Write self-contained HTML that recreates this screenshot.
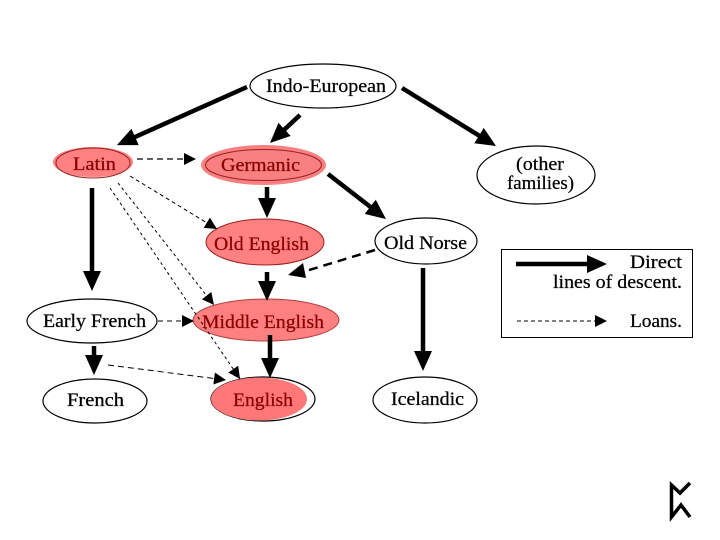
<!DOCTYPE html>
<html><head><meta charset="utf-8"><style>
html,body{margin:0;padding:0;background:#fff}
svg{display:block}
text{font-family:"Liberation Serif",serif;font-size:19px;fill:#000;stroke:#000;stroke-width:.25px}
text.r{fill:#8b0000;stroke:#8b0000}
</style></head><body>
<svg width="720" height="540" viewBox="0 0 720 540" xmlns="http://www.w3.org/2000/svg">
<rect width="720" height="540" fill="#fff"/>
<defs>
<marker id="t" markerUnits="userSpaceOnUse" markerWidth="22" markerHeight="20" refX="10" refY="9" orient="auto"><path d="M0 0L20 9L0 18Z" fill="#000"/></marker>
<marker id="d" markerUnits="userSpaceOnUse" markerWidth="14" markerHeight="14" refX="12" refY="6" orient="auto"><path d="M0 0L12 6L0 12Z" fill="#000"/></marker>
</defs>
<g fill="none" stroke="#000" stroke-width="1.200">
<ellipse cx="323" cy="86" rx="73" ry="22"/>
<ellipse cx="536" cy="175" rx="59" ry="29"/>
<ellipse cx="426" cy="241" rx="51" ry="23"/>
<ellipse cx="92" cy="321" rx="65" ry="22"/>
<ellipse cx="95" cy="401" rx="52" ry="22"/>
<ellipse cx="425" cy="400" rx="52" ry="23"/>
<ellipse cx="263" cy="399" rx="52" ry="22"/>
</g>
<ellipse cx="93" cy="162" rx="40" ry="15" fill="#ff8080"/>
<ellipse cx="93" cy="163" rx="37" ry="15" fill="none" stroke="#9a2020" stroke-width="1"/>
<ellipse cx="263.500" cy="165" rx="62.500" ry="20" fill="#f98080"/>
<ellipse cx="263.500" cy="165" rx="58" ry="15.500" fill="none" stroke="#9a2020" stroke-width="1"/>
<ellipse cx="265" cy="242" rx="59" ry="23" fill="#ff8080" stroke="#9a2020" stroke-width="1"/>
<ellipse cx="266" cy="320" rx="73" ry="21" fill="#ff8080" stroke="#b04040" stroke-width="1"/>
<ellipse cx="259" cy="399" rx="48" ry="21.500" fill="#ff7878"/>
<g stroke="#000" stroke-width="4.500" fill="none">
<line x1="247" y1="87" x2="126" y2="141" marker-end="url(#t)"/>
<line x1="300" y1="115" x2="277.300" y2="136.200" marker-end="url(#t)"/>
<line x1="402" y1="88" x2="487.500" y2="140.800" marker-end="url(#t)"/>
<line x1="328" y1="174" x2="378.100" y2="212.900" marker-end="url(#t)"/>
<line x1="267" y1="187" x2="267" y2="208" marker-end="url(#t)"/>
<line x1="267" y1="272" x2="267" y2="291" marker-end="url(#t)"/>
<line x1="270" y1="335" x2="270" y2="368" marker-end="url(#t)"/>
<line x1="92" y1="188" x2="92" y2="281" marker-end="url(#t)"/>
<line x1="94" y1="346" x2="94" y2="365" marker-end="url(#t)"/>
<line x1="423" y1="268" x2="423" y2="361" marker-end="url(#t)"/>
<line x1="516" y1="264" x2="597" y2="264" marker-end="url(#t)"/>
</g>
<g stroke="#000" stroke-width="1" fill="none" stroke-dasharray="4 3">
<line x1="137" y1="159" x2="196" y2="159" stroke-width="1.200" stroke-dasharray="6 4" marker-end="url(#d)"/>
<line x1="130" y1="176" x2="217" y2="229" marker-end="url(#d)"/>
<line x1="118" y1="183" x2="214" y2="305" stroke-dasharray="3 3" marker-end="url(#d)"/>
<line x1="110" y1="188" x2="240" y2="379" stroke-dasharray="3 3" marker-end="url(#d)"/>
<line x1="158" y1="321" x2="194" y2="321" stroke-dasharray="5 4" marker-end="url(#d)"/>
<line x1="108" y1="365" x2="226" y2="380" stroke-dasharray="6 4" marker-end="url(#d)"/>
<line x1="517" y1="321" x2="607" y2="321" stroke-dasharray="4 3" marker-end="url(#d)"/>
</g>
<line x1="375" y1="250" x2="306" y2="271" stroke="#000" stroke-width="2.500" stroke-dasharray="9 6"/>
<path d="M288 275L303 263L306 278Z" fill="#000"/>
<rect x="501.500" y="249.500" width="191" height="88" fill="none" stroke="#000" stroke-width="1"/>
<text x="266" y="92" textLength="120" lengthAdjust="spacingAndGlyphs">Indo-European</text>
<text class="r" x="73" y="170" textLength="43" lengthAdjust="spacingAndGlyphs">Latin</text>
<text class="r" x="221" y="171" textLength="79" lengthAdjust="spacingAndGlyphs">Germanic</text>
<text class="r" x="214" y="250" textLength="95" lengthAdjust="spacingAndGlyphs">Old English</text>
<text x="384" y="249" textLength="83" lengthAdjust="spacingAndGlyphs">Old Norse</text>
<text x="516" y="170" textLength="48" lengthAdjust="spacingAndGlyphs">(other</text>
<text x="507" y="189" textLength="67" lengthAdjust="spacingAndGlyphs">families)</text>
<text x="43" y="327" textLength="103" lengthAdjust="spacingAndGlyphs">Early French</text>
<text class="r" x="202" y="328" textLength="122" lengthAdjust="spacingAndGlyphs">Middle English</text>
<text x="67" y="406" textLength="57" lengthAdjust="spacingAndGlyphs">French</text>
<text class="r" x="233" y="406" textLength="60" lengthAdjust="spacingAndGlyphs">English</text>
<text x="391" y="405" textLength="73" lengthAdjust="spacingAndGlyphs">Icelandic</text>
<text x="630" y="268" textLength="52" lengthAdjust="spacingAndGlyphs">Direct</text>
<text x="553" y="288" textLength="129" lengthAdjust="spacingAndGlyphs">lines of descent.</text>
<text x="630" y="327" textLength="52" lengthAdjust="spacingAndGlyphs">Loans.</text>
<path d="M690 483L680 493L671.500 485V517L681 505L690 517" fill="none" stroke="#000" stroke-width="3.500"/>
</svg>
</body></html>
